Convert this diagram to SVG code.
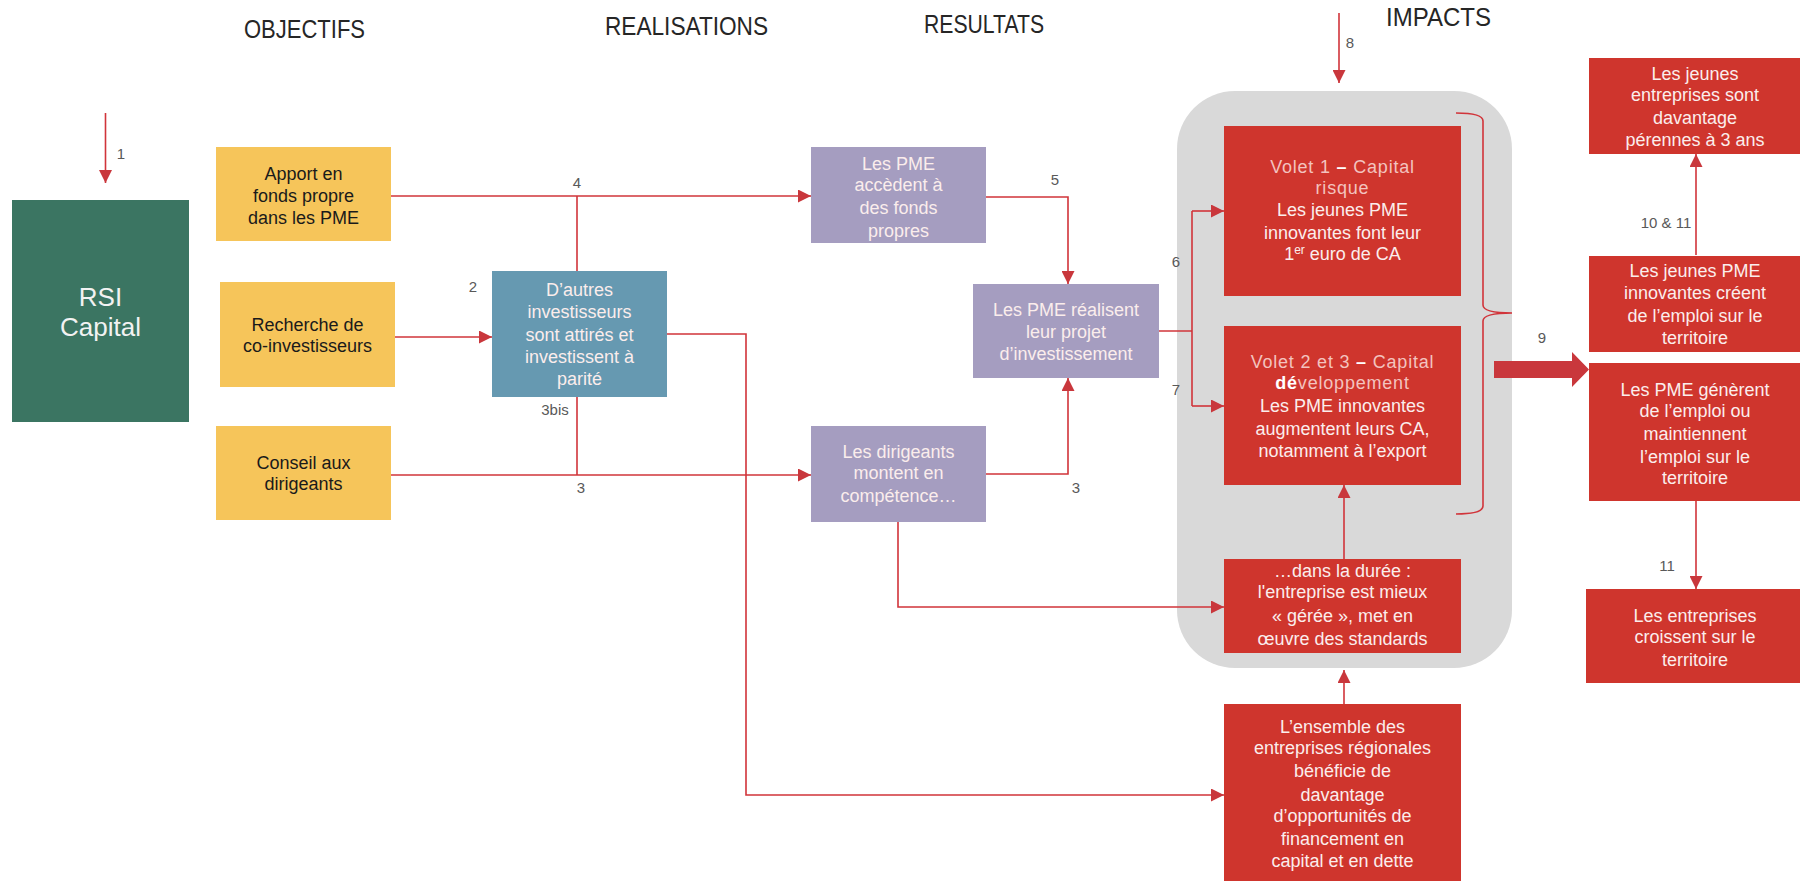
<svg xmlns="http://www.w3.org/2000/svg" width="1801" height="881" viewBox="0 0 1801 881">
<defs>
<marker id="arr" viewBox="0 0 10 10" refX="10" refY="5" markerWidth="13" markerHeight="13" markerUnits="userSpaceOnUse" orient="auto">
<path d="M0,0 L10,5 L0,10 z" fill="#C9373C"/>
</marker>
<style>
text{font-family:"Liberation Sans",Arial,sans-serif;}
.title{font-size:25px;fill:#262626;}
.t{font-size:18px;text-anchor:middle;}
.dark{fill:#1a1a1a;}
.light{fill:#FBEDEC;}
.pink{fill:#F3C3BF;letter-spacing:0.8px;}
.lbl{font-size:15px;fill:#595959;text-anchor:middle;}
.yel{fill:#F6C55A;}
.pur{fill:#A59DC0;}
.blu{fill:#6699B1;}
.red{fill:#CF352D;}
.ln{fill:none;stroke:#D1343A;stroke-width:1.6;}
</style>
</defs>
<rect width="1801" height="881" fill="#ffffff"/>

<g id="titles">
<text class="title" x="244" y="38" textLength="121" lengthAdjust="spacingAndGlyphs">OBJECTIFS</text>
<text class="title" x="605" y="35" textLength="163" lengthAdjust="spacingAndGlyphs">REALISATIONS</text>
<text class="title" x="924" y="33" textLength="120" lengthAdjust="spacingAndGlyphs">RESULTATS</text>
<text class="title" x="1386" y="26" textLength="105" lengthAdjust="spacingAndGlyphs">IMPACTS</text>
</g>

<g id="impacts-zone">
<rect x="1177" y="91" width="335" height="577" rx="58" ry="58" fill="#D9D9D9"/>
</g>

<g id="connectors">
<path class="ln" d="M105.5,113 V183" marker-end="url(#arr)"/>
<path class="ln" d="M391,196 H811" marker-end="url(#arr)"/>
<path class="ln" d="M577,196 V271"/>
<path class="ln" d="M395,337 H492" marker-end="url(#arr)"/>
<path class="ln" d="M577,397 V475"/>
<path class="ln" d="M391,475 H811" marker-end="url(#arr)"/>
<path class="ln" d="M667,334 H746 V795 H1224" marker-end="url(#arr)"/>
<path class="ln" d="M986,197 H1068 V284" marker-end="url(#arr)"/>
<path class="ln" d="M986,474 H1068 V378" marker-end="url(#arr)"/>
<path class="ln" d="M898,522 V607 H1224" marker-end="url(#arr)"/>
<path class="ln" d="M1159,331 H1192"/>
<path class="ln" d="M1192,211 V406"/>
<path class="ln" d="M1192,211 H1224" marker-end="url(#arr)"/>
<path class="ln" d="M1192,406 H1224" marker-end="url(#arr)"/>
<path class="ln" d="M1344,559 V485" marker-end="url(#arr)"/>
<path class="ln" d="M1344,704 V670" marker-end="url(#arr)"/>
<path class="ln" d="M1339,13 V83" marker-end="url(#arr)"/>
<path class="ln" d="M1456,113 Q1483,113 1483,121 V305 Q1483,313 1512,313 Q1483,313 1483,321 V506 Q1483,514 1456,514"/>
<polygon points="1494,361 1572,361 1572,352 1589,369.5 1572,387 1572,378 1494,378" fill="#C9373C"/>
<path class="ln" d="M1696,255 V154" marker-end="url(#arr)"/>
<path class="ln" d="M1696,501 V589" marker-end="url(#arr)"/>
</g>

<g id="labels">
<text class="lbl" x="121" y="159">1</text>
<text class="lbl" x="473" y="292">2</text>
<text class="lbl" x="555" y="415">3bis</text>
<text class="lbl" x="581" y="493">3</text>
<text class="lbl" x="577" y="188">4</text>
<text class="lbl" x="1055" y="185">5</text>
<text class="lbl" x="1076" y="493">3</text>
<text class="lbl" x="1176" y="267">6</text>
<text class="lbl" x="1176" y="395">7</text>
<text class="lbl" x="1350" y="48">8</text>
<text class="lbl" x="1542" y="343">9</text>
<text class="lbl" x="1666" y="228">10 &amp; 11</text>
<text class="lbl" x="1667" y="571">11</text>
</g>

<g id="rsi-capital">
<rect x="12" y="200" width="177" height="222" fill="#3B7562"/>
<text class="t" x="100.5" y="306" style="font-size:26px;fill:#F2F2F2">RSI</text>
<text class="t" x="100.5" y="336" style="font-size:26px;fill:#F2F2F2">Capital</text>
</g>

<g id="apport">
<rect class="yel" x="216" y="147" width="175" height="94"/>
<text class="t dark" x="303.5" y="180">Apport en</text>
<text class="t dark" x="303.5" y="202">fonds propre</text>
<text class="t dark" x="303.5" y="224">dans les PME</text>
</g>

<g id="recherche">
<rect class="yel" x="220" y="282" width="175" height="105"/>
<text class="t dark" x="307.5" y="331">Recherche de</text>
<text class="t dark" x="307.5" y="352">co-investisseurs</text>
</g>

<g id="conseil">
<rect class="yel" x="216" y="426" width="175" height="94"/>
<text class="t dark" x="303.5" y="469">Conseil aux</text>
<text class="t dark" x="303.5" y="490">dirigeants</text>
</g>

<g id="autres-investisseurs">
<rect class="blu" x="492" y="271" width="175" height="126"/>
<text class="t light" x="579.5" y="296">D’autres</text>
<text class="t light" x="579.5" y="318">investisseurs</text>
<text class="t light" x="579.5" y="341">sont attirés et</text>
<text class="t light" x="579.5" y="363">investissent à</text>
<text class="t light" x="579.5" y="385">parité</text>
</g>

<g id="pme-accedent">
<rect class="pur" x="811" y="147" width="175" height="96"/>
<text class="t light" x="898.5" y="170">Les PME</text>
<text class="t light" x="898.5" y="191">accèdent à</text>
<text class="t light" x="898.5" y="214">des fonds</text>
<text class="t light" x="898.5" y="237">propres</text>
</g>

<g id="pme-realisent">
<rect class="pur" x="973" y="284" width="186" height="94"/>
<text class="t light" x="1066" y="316">Les PME réalisent</text>
<text class="t light" x="1066" y="338">leur projet</text>
<text class="t light" x="1066" y="360">d’investissement</text>
</g>

<g id="dirigeants">
<rect class="pur" x="811" y="426" width="175" height="96"/>
<text class="t light" x="898.5" y="458">Les dirigeants</text>
<text class="t light" x="898.5" y="479">montent en</text>
<text class="t light" x="898.5" y="502">compétence…</text>
</g>

<g id="volet1">
<rect class="red" x="1224" y="126" width="237" height="170"/>
<text class="t pink" x="1342.5" y="173">Volet 1 <tspan style="font-weight:bold;fill:#FFFFFF">–</tspan> Capital</text>
<text class="t pink" x="1342.5" y="194">risque</text>
<text class="t light" x="1342.5" y="216">Les jeunes PME</text>
<text class="t light" x="1342.5" y="239">innovantes font leur</text>
<text class="t light" x="1342.5" y="260">1<tspan style="font-size:12px" dy="-6">er</tspan><tspan dy="6"> euro de CA</tspan></text>
</g>

<g id="volet2">
<rect class="red" x="1224" y="326" width="237" height="159"/>
<text class="t pink" x="1342.5" y="368">Volet 2 et 3 <tspan style="font-weight:bold;fill:#FFFFFF">–</tspan> Capital</text>
<text class="t pink" x="1342.5" y="389"><tspan style="font-weight:bold;fill:#FFFFFF">dé</tspan>veloppement</text>
<text class="t light" x="1342.5" y="412">Les PME innovantes</text>
<text class="t light" x="1342.5" y="435">augmentent leurs CA,</text>
<text class="t light" x="1342.5" y="457">notamment à l’export</text>
</g>

<g id="duree">
<rect class="red" x="1224" y="559" width="237" height="94"/>
<text class="t light" x="1342.5" y="577">…dans la durée :</text>
<text class="t light" x="1342.5" y="598">l'entreprise est mieux</text>
<text class="t light" x="1342.5" y="622">« gérée », met en</text>
<text class="t light" x="1342.5" y="645">œuvre des standards</text>
</g>

<g id="ensemble">
<rect class="red" x="1224" y="704" width="237" height="177"/>
<text class="t light" x="1342.5" y="733">L’ensemble des</text>
<text class="t light" x="1342.5" y="754">entreprises régionales</text>
<text class="t light" x="1342.5" y="777">bénéficie de</text>
<text class="t light" x="1342.5" y="801">davantage</text>
<text class="t light" x="1342.5" y="822">d’opportunités de</text>
<text class="t light" x="1342.5" y="845">financement en</text>
<text class="t light" x="1342.5" y="867">capital et en dette</text>
</g>

<g id="perennes">
<rect class="red" x="1589" y="58" width="211" height="96"/>
<text class="t light" x="1695" y="80">Les jeunes</text>
<text class="t light" x="1695" y="101">entreprises sont</text>
<text class="t light" x="1695" y="124">davantage</text>
<text class="t light" x="1695" y="146">pérennes à 3 ans</text>
</g>

<g id="jeunes-pme-emploi">
<rect class="red" x="1589" y="256" width="211" height="96"/>
<text class="t light" x="1695" y="277">Les jeunes PME</text>
<text class="t light" x="1695" y="299">innovantes créent</text>
<text class="t light" x="1695" y="322">de l’emploi sur le</text>
<text class="t light" x="1695" y="344">territoire</text>
</g>

<g id="pme-emploi">
<rect class="red" x="1589" y="363" width="211" height="138"/>
<text class="t light" x="1695" y="396">Les PME génèrent</text>
<text class="t light" x="1695" y="417">de l’emploi ou</text>
<text class="t light" x="1695" y="440">maintiennent</text>
<text class="t light" x="1695" y="463">l’emploi sur le</text>
<text class="t light" x="1695" y="484">territoire</text>
</g>

<g id="croissent">
<rect class="red" x="1586" y="589" width="214" height="94"/>
<text class="t light" x="1695" y="622">Les entreprises</text>
<text class="t light" x="1695" y="643">croissent sur le</text>
<text class="t light" x="1695" y="666">territoire</text>
</g>
</svg>
